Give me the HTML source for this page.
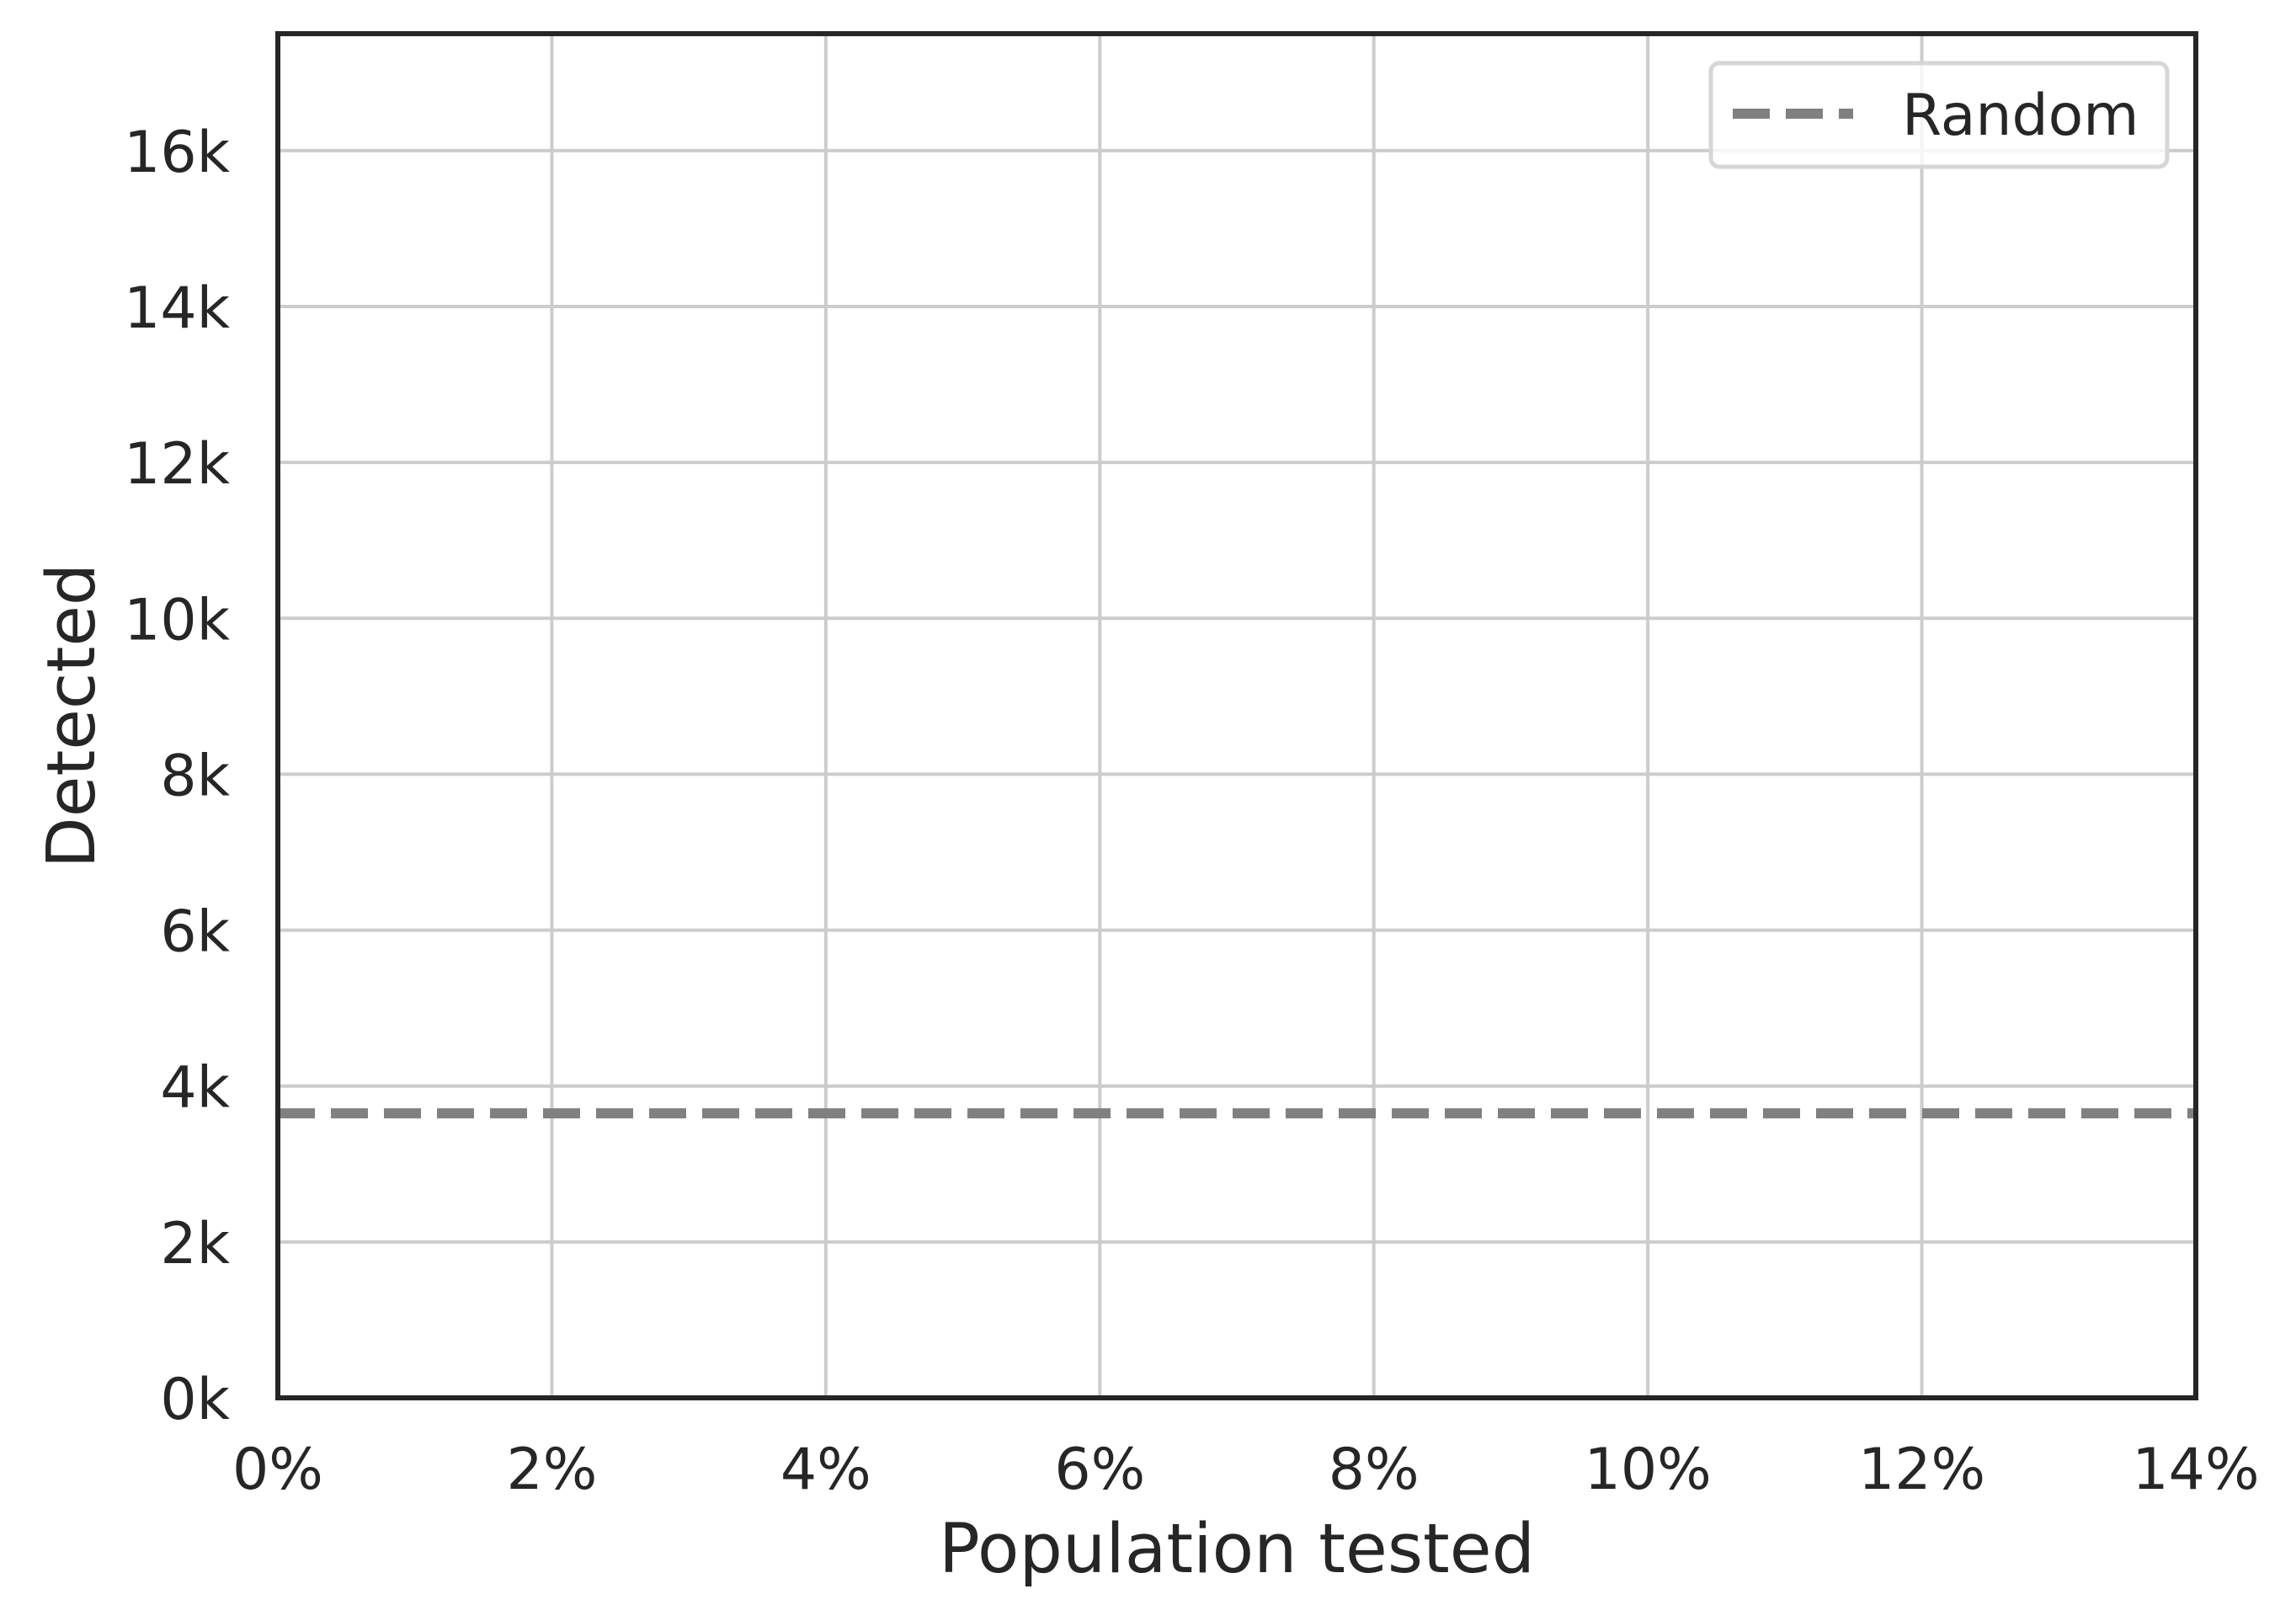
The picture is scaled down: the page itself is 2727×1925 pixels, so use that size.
<!DOCTYPE html>
<html><head><meta charset="utf-8"><style>
html,body{margin:0;padding:0;background:#fff;}
svg{display:block;font-family:"DejaVu Sans","Liberation Sans",sans-serif;}
</style></head><body>
<svg id="chart" width="2727" height="1925" viewBox="0 0 2727 1925" xmlns="http://www.w3.org/2000/svg">
<rect width="2727" height="1925" fill="#fff"/>
<g id="grid"></g>
<g id="series"></g>
<rect x="330" y="40" width="2278" height="1620" fill="none" stroke="#262626" stroke-width="6"/>
<g id="ticks"></g>
<text x="1469" y="1867" font-size="81" fill="#262626" text-anchor="middle">Population tested</text>
<text transform="translate(112,850) rotate(-90)" font-size="79" fill="#262626" text-anchor="middle">Detected</text>
<g>
<rect x="2032" y="75" width="542" height="123" rx="10" fill="#fff" fill-opacity="0.8" stroke="#d6d6d6" stroke-width="5"/>
<line x1="2058" y1="135" x2="2201" y2="135" stroke="#808080" stroke-width="12" stroke-dasharray="44,19"/>
<text x="2259" y="160" font-size="68" fill="#262626">Random</text>
</g>
</svg>
<script>
const xTicks = [0, 2, 4, 6, 8, 10, 12, 14];
const xTickLabels = ["0%", "2%", "4%", "6%", "8%", "10%", "12%", "14%"];
const yTicks = [0, 2000, 4000, 6000, 8000, 10000, 12000, 14000, 16000];
const yTickLabels = ["0k", "2k", "4k", "6k", "8k", "10k", "12k", "14k", "16k"];
const randomX = [0, 14];
const randomY = [3650, 3650];

const NS = "http://www.w3.org/2000/svg";
const L = 330, R = 2608, T = 40, B = 1660;
const xMin = 0, xMax = 14, yMin = 0, yMax = 17500;
function sx(v){ return L + (v - xMin) / (xMax - xMin) * (R - L); }
function sy(v){ return B - (v - yMin) / (yMax - yMin) * (B - T); }
function mk(tag, attrs, parent){
  const e = document.createElementNS(NS, tag);
  for (const k in attrs) e.setAttribute(k, attrs[k]);
  parent.appendChild(e);
  return e;
}
const grid = document.getElementById('grid');
const ticks = document.getElementById('ticks');
const series = document.getElementById('series');

xTicks.forEach((v, i) => {
  const g = mk('line', {x1: sx(v), x2: sx(v), y1: T, y2: B, stroke: '#cccccc', 'stroke-width': 4}, grid);
  
  
  const t = mk('text', {x: sx(v), y: 1768, 'font-size': 68, fill: '#262626', 'text-anchor': 'middle'}, ticks);
  t.textContent = xTickLabels[i];
  
  
});
yTicks.forEach((v, i) => {
  const g = mk('line', {x1: L, x2: R, y1: sy(v), y2: sy(v), stroke: '#cccccc', 'stroke-width': 4}, grid);
  
  
  const t = mk('text', {x: 273, y: sy(v) + 25, 'font-size': 68, fill: '#262626', 'text-anchor': 'end'}, ticks);
  t.textContent = yTickLabels[i];
  
  
});
let d = '';
randomX.forEach((v, i) => { d += (i ? 'L' : 'M') + sx(v) + ',' + sy(randomY[i]); });
const p = mk('path', {d: d, fill: 'none', stroke: '#808080', 'stroke-width': 12, 'stroke-dasharray': '44,19'}, series);


</script>
</body></html>
